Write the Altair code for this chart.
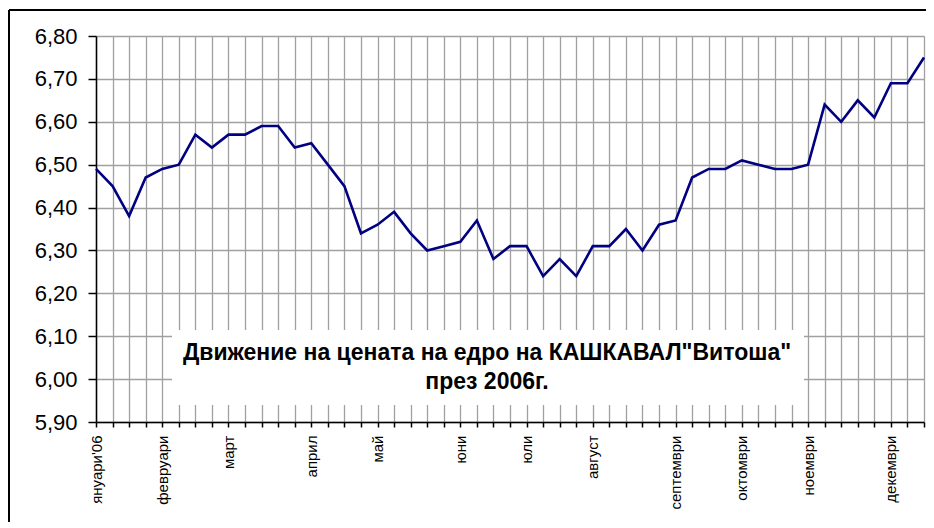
import altair as alt
import pandas as pd

# Weekly wholesale prices, 2006 (51 points)
prices = [6.49, 6.45, 6.38, 6.47, 6.49, 6.50, 6.57, 6.54, 6.57, 6.57,
          6.59, 6.59, 6.54, 6.55, 6.50, 6.45, 6.34, 6.36, 6.39, 6.34,
          6.30, 6.31, 6.32, 6.37, 6.28, 6.31, 6.31, 6.24, 6.28, 6.24,
          6.31, 6.31, 6.35, 6.30, 6.36, 6.37, 6.47, 6.49, 6.49, 6.51,
          6.50, 6.49, 6.49, 6.50, 6.64, 6.60, 6.65, 6.61, 6.69, 6.69,
          6.75]
week_index = list(range(len(prices)))

# Month labels and the week on which each appears
month_names = ["януари'06", "февруари", "март", "април", "май", "юни",
               "юли", "август", "септември", "октомври", "ноември", "декември"]
month_weeks = [0, 4, 8, 13, 17, 22, 26, 30, 35, 39, 43, 48]

y_ticks = [5.9, 6.0, 6.1, 6.2, 6.3, 6.4, 6.5, 6.6, 6.7, 6.8]

title_line1 = 'Движение на цената на едро на КАШКАВАЛ"Витоша"'
title_line2 = "през 2006г."

df = pd.DataFrame({"week": week_index, "price": prices})

label_arr = [""] * len(prices)
for w, m in zip(month_weeks, month_names):
    label_arr[w] = m
label_expr = "[" + ",".join('"' + s + '"' for s in label_arr) + "][datum.value]"

FONT = "Liberation Sans"

x_enc = alt.X(
    "week:Q",
    scale=alt.Scale(domain=[0, len(prices) - 1], nice=False, zero=False),
    axis=alt.Axis(
        values=week_index,
        labelExpr=label_expr,
        labelAngle=270,
        labelAlign="right",
        labelBaseline="middle",
        labelOverlap=False,
        labelBound=False,
        labelFlush=False,
        labelPadding=8,
        labelFontSize=15,
        labelFont=FONT,
        labelColor="#000000",
        tickSize=5,
        tickColor="#000000",
        tickWidth=1.5,
        domainColor="#000000",
        domainWidth=1.5,
        grid=True,
        gridColor="#a0a0a0",
        gridWidth=1.3,
        title=None,
    ),
)

y_enc = alt.Y(
    "price:Q",
    scale=alt.Scale(domain=[5.9, 6.8], nice=False, zero=False),
    axis=alt.Axis(
        values=y_ticks,
        labelExpr="replace(format(datum.value, '.2f'), '.', ',')",
        labelFontSize=22,
        labelFont=FONT,
        labelColor="#000000",
        labelPadding=11,
        tickSize=8,
        tickColor="#000000",
        tickWidth=1.5,
        domainColor="#000000",
        domainWidth=1.5,
        grid=True,
        gridColor="#a0a0a0",
        gridWidth=1.3,
        title=None,
    ),
)

line = alt.Chart(df).mark_line(color="#000080", strokeWidth=2.6).encode(x=x_enc, y=y_enc)

one = alt.Data(values=[{"a": 1}])

box = alt.Chart(one).mark_rect(fill="#ffffff", stroke=None).encode(
    x=alt.value(76), x2=alt.value(708), y=alt.value(294), y2=alt.value(369)
)

t1 = alt.Chart(one).mark_text(
    font=FONT, fontSize=23, fontWeight="bold", color="#000000",
    align="center", baseline="alphabetic"
).encode(x=alt.value(391), y=alt.value(324), text=alt.value(title_line1))

t2 = alt.Chart(one).mark_text(
    font=FONT, fontSize=23, fontWeight="bold", color="#000000",
    align="center", baseline="alphabetic"
).encode(x=alt.value(391), y=alt.value(353), text=alt.value(title_line2))

frame_left = alt.Chart(one).mark_rule(color="#000000", strokeWidth=2).encode(
    x=alt.value(-87), y=alt.value(-26), y2=alt.value(600)
)
frame_top = alt.Chart(one).mark_rule(color="#000000", strokeWidth=2).encode(
    x=alt.value(-87), x2=alt.value(1000), y=alt.value(-26)
)

chart = alt.layer(line, box, t1, t2, frame_left, frame_top).properties(
    width=828,
    height=386,
    autosize=alt.AutoSizeParams(type="none"),
    padding={"left": 88, "top": 28, "right": 2, "bottom": 100},
    background="#ffffff",
).configure_view(stroke="transparent")

chart.save("out.html", embed_options={"renderer": "svg", "actions": False})
